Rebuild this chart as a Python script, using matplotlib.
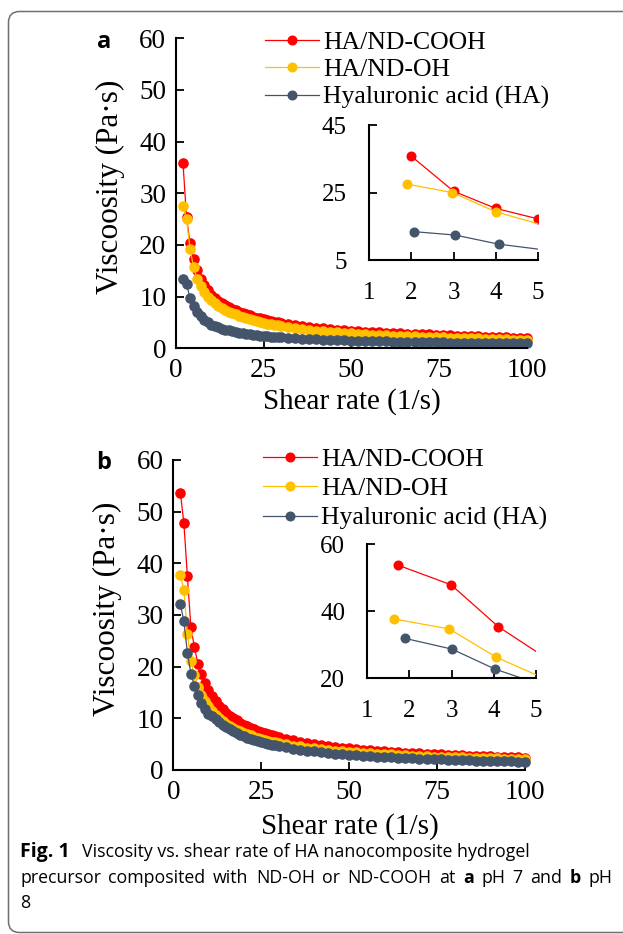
import matplotlib
matplotlib.use("Agg")
import matplotlib.pyplot as plt
from matplotlib.path import Path
from matplotlib.patches import PathPatch

plt.rcParams["font.family"] = ["Liberation Serif", "DejaVu Serif"]

# shear rate grid (1/s)
SHEAR = list(range(2, 31)) + list(range(32, 101, 2))

# (a) pH 7 -- viscosity (Pa·s)
COOH_A = [35.8, 25.4, 20.3, 17.2, 15.07, 13.47, 12.23, 11.23, 10.4, 9.78,
          9.24, 8.78, 8.37, 8.0, 7.66, 7.36, 7.08, 6.83, 6.6, 6.37,
          6.15, 5.95, 5.77, 5.6, 5.44, 5.29, 5.15, 5.02, 4.9,
          4.68, 4.49, 4.31, 4.15, 4.0, 3.86, 3.73, 3.61, 3.50, 3.4,
          3.31, 3.22, 3.15, 3.07, 3.0, 2.94, 2.88, 2.82, 2.77, 2.72,
          2.67, 2.62, 2.57, 2.51, 2.45, 2.40, 2.34, 2.30, 2.25, 2.20,
          2.16, 2.12, 2.08, 2.04, 2.0]
OH_A = [27.5, 25.0, 19.3, 15.7, 13.49, 11.99, 10.88, 9.99, 9.26, 8.70,
        8.22, 7.81, 7.45, 7.12, 6.82, 6.55, 6.30, 6.08, 5.87, 5.64,
        5.44, 5.27, 5.11, 4.93, 4.79, 4.66, 4.53, 4.42, 4.29,
        4.07, 3.91, 3.73, 3.59, 3.44, 3.32, 3.19, 3.09, 2.98, 2.89,
        2.81, 2.72, 2.66, 2.59, 2.52, 2.47, 2.42, 2.37, 2.31, 2.27,
        2.23, 2.19, 2.13, 2.08, 2.03, 1.99, 1.93, 1.90, 1.86, 1.80,
        1.77, 1.74, 1.70, 1.66, 1.62]
HA_A = [13.4, 12.4, 9.7, 8.2, 7.04, 6.19, 5.54, 5.02, 4.6, 4.30,
        4.04, 3.82, 3.62, 3.45, 3.29, 3.15, 3.02, 2.91, 2.8, 2.71,
        2.62, 2.54, 2.47, 2.4, 2.33, 2.27, 2.21, 2.15, 2.1,
        2.02, 1.94, 1.87, 1.81, 1.75, 1.69, 1.64, 1.59, 1.54, 1.5,
        1.46, 1.43, 1.39, 1.36, 1.33, 1.30, 1.28, 1.25, 1.23, 1.20,
        1.18, 1.16, 1.14, 1.12, 1.10, 1.08, 1.07, 1.05, 1.03, 1.02,
        1.00, 0.99, 0.98, 0.96, 0.95]

# (b) pH 8
COOH_B = [53.7, 47.8, 37.5, 27.6, 23.8, 20.5, 18.5, 16.8, 15.4, 14.26,
          13.29, 12.46, 11.74, 11.10, 10.54, 10.04, 9.58, 9.17, 8.80, 8.46,
          8.15, 7.86, 7.60, 7.35, 7.12, 6.91, 6.71, 6.52, 6.34,
          6.02, 5.74, 5.48, 5.24, 5.03, 4.84, 4.66, 4.49, 4.34, 4.20,
          4.07, 3.95, 3.83, 3.73, 3.63, 3.53, 3.44, 3.36, 3.28, 3.20,
          3.13, 3.06, 3.00, 2.94, 2.88, 2.82, 2.76, 2.71, 2.66, 2.62,
          2.57, 2.53, 2.48, 2.44, 2.40]
OH_B = [37.8, 34.8, 26.4, 21.0, 18.3, 16.0, 14.5, 13.3, 12.3, 11.41,
        10.70, 10.03, 9.51, 8.99, 8.54, 8.18, 7.81, 7.47, 7.22, 6.94,
        6.68, 6.45, 6.23, 6.03, 5.84, 5.67, 5.50, 5.35, 5.20,
        4.97, 4.74, 4.55, 4.35, 4.17, 4.04, 3.89, 3.77, 3.65, 3.55,
        3.44, 3.34, 3.24, 3.15, 3.07, 3.00, 2.92, 2.86, 2.79, 2.72,
        2.66, 2.60, 2.57, 2.51, 2.48, 2.43, 2.37, 2.34, 2.30, 2.27,
        2.24, 2.20, 2.16, 2.14, 2.10]
HA_B = [32.1, 28.8, 22.7, 18.6, 16.3, 14.5, 13.0, 11.8, 10.9, 10.41,
        9.83, 9.22, 8.75, 8.27, 7.85, 7.48, 7.14, 6.83, 6.56, 6.26,
        6.03, 5.82, 5.62, 5.44, 5.23, 5.08, 4.93, 4.76, 4.63,
        4.36, 4.13, 3.95, 3.75, 3.60, 3.46, 3.31, 3.19, 3.08, 2.98,
        2.88, 2.78, 2.69, 2.61, 2.54, 2.46, 2.39, 2.33, 2.26, 2.20,
        2.15, 2.10, 2.05, 2.00, 1.96, 1.91, 1.87, 1.83, 1.79, 1.76,
        1.72, 1.69, 1.65, 1.63, 1.60]

# insets: first points, as drawn in the zoom boxes
INS_A_X = [[2.0, 3.0, 4.0, 5.0], [1.9, 2.97, 4.0, 5.15], [2.07, 3.04, 4.07, 5.15]]
INS_A_Y = [[35.8, 25.4, 20.3, 17.2], [27.5, 25.0, 19.3, 15.2], [13.4, 12.4, 9.7, 8.0]]
INS_B_X = [[1.72, 2.99, 4.11, 5.3], [1.64, 2.95, 4.06, 5.25], [1.9, 3.01, 4.04, 5.1]]
INS_B_Y = [[53.8, 47.9, 35.4, 25.6], [37.7, 34.7, 26.3, 19.7], [31.9, 28.7, 22.7, 18.2]]

LABELS = ["HA/ND-COOH", "HA/ND-OH", "Hyaluronic acid (HA)"]
COLORS = ["#FF0000", "#FFC000", "#44546A"]

MS = 6.6
LW = 0.9


def style(ax, size, pad):
    for s in ("top", "right"):
        ax.spines[s].set_visible(False)
    for s in ("left", "bottom"):
        ax.spines[s].set_linewidth(1.5)
    ax.tick_params(direction="in", length=5.5, width=1.3, labelsize=size, pad=pad)


def main_panel(rect, series, xlab_y, leg_anchor, spacing):
    ax = fig.add_axes(rect)
    for ys, c, lab in zip(series, COLORS, LABELS):
        ax.plot(SHEAR, ys, "-o", color=c, ms=MS, lw=LW, label=lab, clip_on=False)
    ax.set_xlim(0, 100)
    ax.set_ylim(0, 60)
    ax.set_xticks([0, 25, 50, 75, 100])
    ax.set_yticks(range(0, 61, 10))
    style(ax, 19.5, 7)
    ax.set_xlabel("Shear rate (1/s)", fontsize=21)
    ax.set_ylabel("Viscoosity (Pa·s)", fontsize=22.5)
    ax.xaxis.set_label_coords(0.502, xlab_y)
    ax.yaxis.set_label_coords(-0.145, 0.52)
    leg = ax.legend(loc="upper left", bbox_to_anchor=leg_anchor, frameon=False,
                    fontsize=18.5, handlelength=2.1, handletextpad=0.15,
                    labelspacing=spacing, borderpad=0, borderaxespad=0)
    for h in leg.legend_handles:
        h.set_markersize(6.2)
    return ax


def inset(rect, xs, ys, ylim, yticks):
    ax = fig.add_axes(rect)
    for x, y, c in zip(xs, ys, COLORS):
        ax.plot(x, y, "-o", color=c, ms=6.2, lw=LW)
    ax.set_xlim(1, 5)
    ax.set_ylim(*ylim)
    ax.set_xticks([1, 2, 3, 4, 5])
    ax.set_yticks(yticks)
    style(ax, 18, 16)
    return ax


fig = plt.figure(figsize=(6.23, 9.34), dpi=100)

bg = fig.add_axes([0, 0, 1, 1], zorder=-5)
bg.set_xlim(0, 623)
bg.set_ylim(934, 0)
bg.axis("off")

# page frame: open on the right, rounded on the left corners
L, T, B, R, K = 8.5, 11.5, 932.5, 640, 11
frame = Path([(R, T), (L + K, T), (L, T), (L, T + K), (L, B - K), (L, B), (L + K, B), (R, B)],
             [Path.MOVETO, Path.LINETO, Path.CURVE3, Path.CURVE3, Path.LINETO,
              Path.CURVE3, Path.CURVE3, Path.LINETO])
bg.add_patch(PathPatch(frame, fc="none", ec="#707070", lw=1.1))

main_panel([0.2825, 0.6271, 0.563, 0.3319], [COOH_A, OH_A, HA_A], -0.128,
           (0.254, 1.024), 0.18)
inset([0.5923, 0.7216, 0.2713, 0.1445], INS_A_X, INS_A_Y, (5, 45), [5, 25, 45])

main_panel([0.2782, 0.1756, 0.5645, 0.3319], [COOH_B, OH_B, HA_B], -0.139,
           (0.255, 1.04), 0.26)
inset([0.5896, 0.2738, 0.2703, 0.1435], INS_B_X, INS_B_Y, (20, 60), [20, 40, 60])

bg.text(104, 42, "a", fontsize=17, fontweight="bold", family="Open Sans",
        ha="center", va="center")
bg.text(104, 463, "b", fontsize=17, fontweight="bold", family="Open Sans",
        ha="center", va="center")

# caption
CAP = 12.8
renderer = fig.canvas.get_renderer()


def cap_text(x, y, s, bold=False, size=CAP):
    return bg.text(x, y, s, fontsize=size, family="Open Sans",
                   fontweight="bold" if bold else "normal", va="baseline")


def width(t):
    return t.get_window_extent(renderer).width


# line 1
lab = cap_text(20, 857, "Fig. 1", True, 14)
cap_text(20 + width(lab) + 12, 857, "Viscosity vs. shear rate of HA nanocomposite hydrogel")

# line 2: justified from x=20 to x=612
words = [("precursor", False), ("composited", False), ("with", False), ("ND-OH", False),
         ("or", False), ("ND-COOH", False), ("at", False), ("a", True), ("pH", False),
         ("7", False), ("and", False), ("b", True), ("pH", False)]
items = [cap_text(0, 883, w, b) for w, b in words]
widths = [width(it) for it in items]
gap = (592 - sum(widths)) / (len(items) - 1)
x = 20
for it, w in zip(items, widths):
    it.set_x(x)
    x += w + gap

cap_text(20, 908, "8")

fig.savefig("out.png", dpi=100)
